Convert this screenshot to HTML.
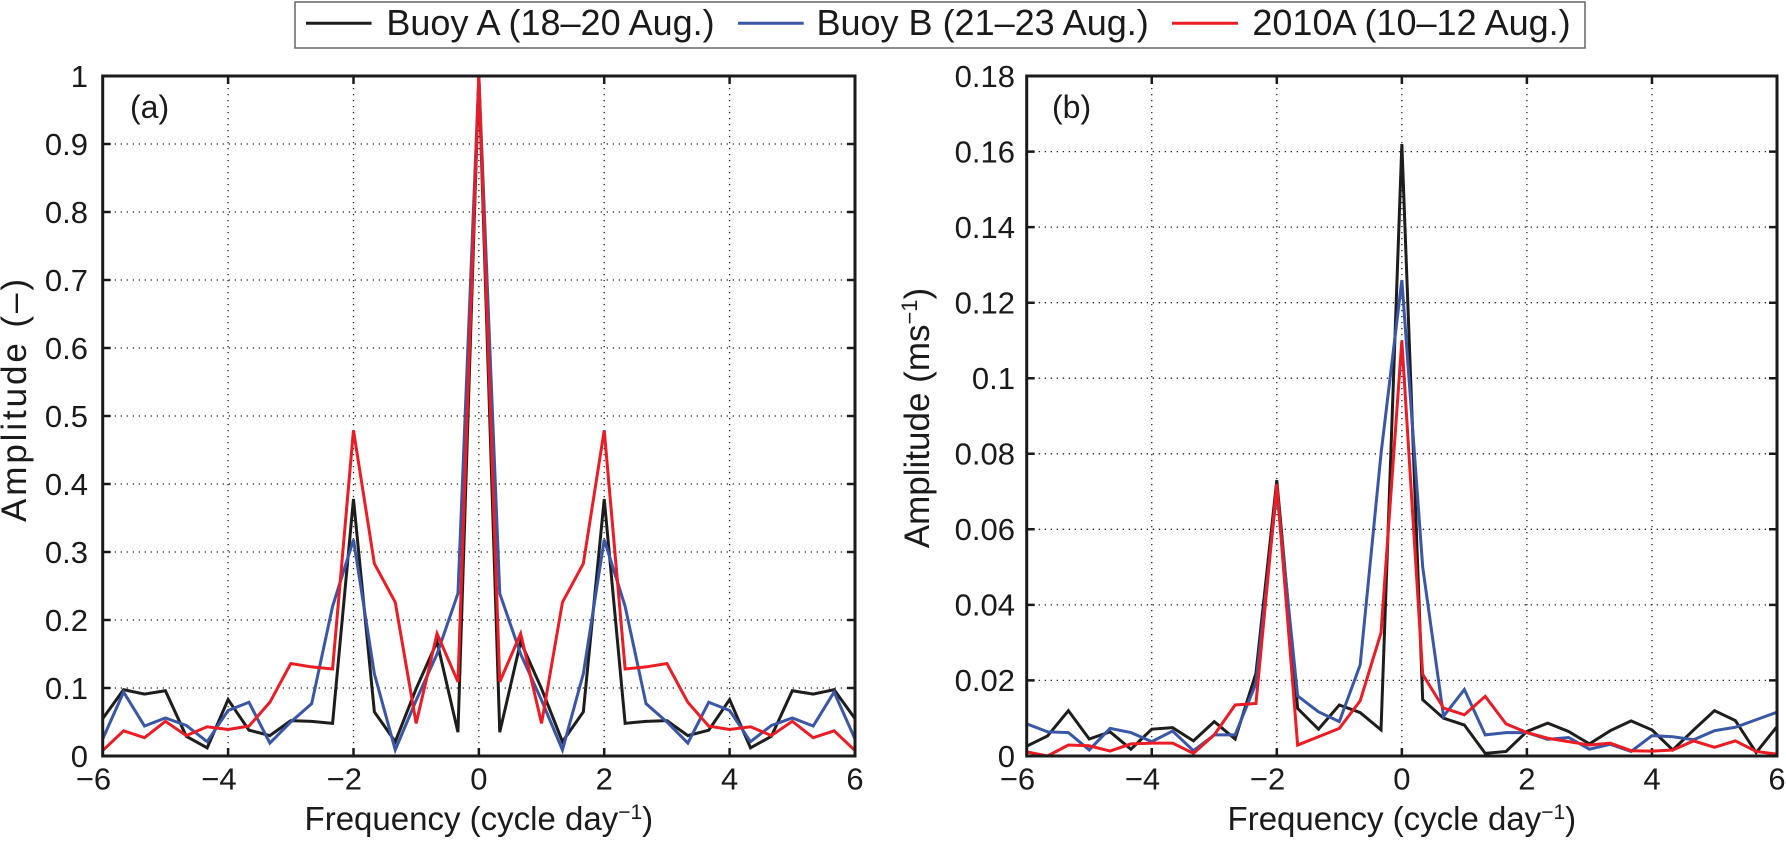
<!DOCTYPE html>
<html><head><meta charset="utf-8"><style>
html,body{margin:0;padding:0;background:#fff;}
svg{display:block;}
text{font-family:"Liberation Sans",Arial,sans-serif;fill:#1a1a1a;}
</style></head><body>
<svg width="1786" height="841" viewBox="0 0 1786 841" xmlns="http://www.w3.org/2000/svg">
<rect width="1786" height="841" fill="#fff"/>

<!-- Legend -->
<rect x="295" y="2" width="1290" height="46" fill="#fff" stroke="#666" stroke-width="1.5"/>
<line x1="306" y1="23.3" x2="371.5" y2="23.3" stroke="#1d1d1b" stroke-width="3"/>
<text x="386.4" y="35" font-size="36">Buoy A (18–20 Aug.)</text>
<line x1="738" y1="23.3" x2="803.7" y2="23.3" stroke="#3a56a6" stroke-width="3"/>
<text x="816.5" y="35" font-size="36">Buoy B (21–23 Aug.)</text>
<line x1="1172" y1="23.3" x2="1238" y2="23.3" stroke="#ec1c24" stroke-width="3"/>
<text x="1252.4" y="35" font-size="36">2010A (10–12 Aug.)</text>

<!-- ============ Panel (a) ============ -->
<g fill="none" stroke="#222" stroke-width="1.3" stroke-dasharray="1.3 4.7">
<path d="M228.1 76V756 M353.5 76V756 M478.85 76V756 M604.2 76V756 M729.6 76V756"/>
<path d="M102.7 688H855 M102.7 620H855 M102.7 552H855 M102.7 484H855 M102.7 416H855 M102.7 348H855 M102.7 280H855 M102.7 212H855 M102.7 144H855"/>
</g>
<g fill="none" stroke="#1a1a1a" stroke-width="2.5">
<path d="M228.1 756v-8 M353.5 756v-8 M478.85 756v-8 M604.2 756v-8 M729.6 756v-8 M228.1 76v8 M353.5 76v8 M478.85 76v8 M604.2 76v8 M729.6 76v8"/>
<path d="M102.7 688h8 M102.7 620h8 M102.7 552h8 M102.7 484h8 M102.7 416h8 M102.7 348h8 M102.7 280h8 M102.7 212h8 M102.7 144h8 M855 688h-8 M855 620h-8 M855 552h-8 M855 484h-8 M855 416h-8 M855 348h-8 M855 280h-8 M855 212h-8 M855 144h-8"/>
</g>
<g transform="translate(478.85,756) scale(62.692,-680)" fill="none" stroke-width="3" stroke-linejoin="miter">
<polyline vector-effect="non-scaling-stroke" stroke="#1d1d1b" points="-6,0.055 -5.6667,0.0975 -5.3333,0.091 -5,0.096 -4.6667,0.029 -4.3333,0.012 -4,0.083 -3.6667,0.038 -3.3333,0.030 -3,0.052 -2.6667,0.051 -2.3333,0.048 -2,0.378 -1.6667,0.065 -1.3333,0.021 -1,0.099 -0.6667,0.168 -0.3333,0.035 0,1 0.3333,0.035 0.6667,0.168 1,0.099 1.3333,0.021 1.6667,0.065 2,0.378 2.3333,0.048 2.6667,0.051 3,0.052 3.3333,0.030 3.6667,0.038 4,0.083 4.3333,0.012 4.6667,0.029 5,0.096 5.3333,0.091 5.6667,0.0975 6,0.055"/>
<polyline vector-effect="non-scaling-stroke" stroke="#3a56a6" points="-6,0.025 -5.6667,0.094 -5.3333,0.044 -5,0.056 -4.6667,0.045 -4.3333,0.021 -4,0.067 -3.6667,0.079 -3.3333,0.019 -3,0.050 -2.6667,0.077 -2.3333,0.22 -2,0.318 -1.6667,0.121 -1.3333,0.009 -1,0.082 -0.6667,0.15 -0.3333,0.239 0,1 0.3333,0.239 0.6667,0.15 1,0.082 1.3333,0.009 1.6667,0.121 2,0.318 2.3333,0.22 2.6667,0.077 3,0.050 3.3333,0.019 3.6667,0.079 4,0.067 4.3333,0.021 4.6667,0.045 5,0.056 5.3333,0.044 5.6667,0.094 6,0.025"/>
<polyline vector-effect="non-scaling-stroke" stroke="#ec1c24" points="-6,0.008 -5.6667,0.037 -5.3333,0.027 -5,0.051 -4.6667,0.030 -4.3333,0.043 -4,0.039 -3.6667,0.044 -3.3333,0.079 -3,0.136 -2.6667,0.131 -2.3333,0.128 -2,0.479 -1.6667,0.283 -1.3333,0.226 -1,0.048 -0.6667,0.18 -0.3333,0.109 0,1 0.3333,0.109 0.6667,0.18 1,0.048 1.3333,0.226 1.6667,0.283 2,0.479 2.3333,0.128 2.6667,0.131 3,0.136 3.3333,0.079 3.6667,0.044 4,0.039 4.3333,0.043 4.6667,0.030 5,0.051 5.3333,0.027 5.6667,0.037 6,0.008"/>
</g>
<rect x="102.7" y="76" width="752.3" height="680" fill="none" stroke="#1a1a1a" stroke-width="3"/>

<g font-size="31" text-anchor="end">
<text x="88" y="766.8">0</text>
<text x="88" y="698.8">0.1</text>
<text x="88" y="630.8">0.2</text>
<text x="88" y="562.8">0.3</text>
<text x="88" y="494.8">0.4</text>
<text x="88" y="426.8">0.5</text>
<text x="88" y="358.8">0.6</text>
<text x="88" y="290.8">0.7</text>
<text x="88" y="222.8">0.8</text>
<text x="88" y="154.8">0.9</text>
<text x="88" y="86.8">1</text>
</g>
<g font-size="31" text-anchor="middle">
<text x="93.5" y="789.5">−6</text>
<text x="218.9" y="789.5">−4</text>
<text x="344.3" y="789.5">−2</text>
<text x="478.85" y="789.5">0</text>
<text x="604.2" y="789.5">2</text>
<text x="729.6" y="789.5">4</text>
<text x="855" y="789.5">6</text>
</g>
<text x="130" y="118" font-size="32">(a)</text>
<text x="478.85" y="830" font-size="33" text-anchor="middle">Frequency (cycle day<tspan font-size="21" dy="-11">−1</tspan><tspan dy="11">)</tspan></text>
<text transform="translate(26,400.5) rotate(-90)" font-size="35" text-anchor="middle" textLength="243" lengthAdjust="spacing">Amplitude (–)</text>

<!-- ============ Panel (b) ============ -->
<g fill="none" stroke="#222" stroke-width="1.3" stroke-dasharray="1.3 4.7">
<path d="M1151.75 76V756 M1276.8 76V756 M1401.85 76V756 M1526.9 76V756 M1651.95 76V756"/>
<path d="M1026.7 680.4H1777 M1026.7 604.9H1777 M1026.7 529.3H1777 M1026.7 453.8H1777 M1026.7 378.2H1777 M1026.7 302.7H1777 M1026.7 227.1H1777 M1026.7 151.6H1777"/>
</g>
<g fill="none" stroke="#1a1a1a" stroke-width="2.5">
<path d="M1151.75 756v-8 M1276.8 756v-8 M1401.85 756v-8 M1526.9 756v-8 M1651.95 756v-8 M1151.75 76v8 M1276.8 76v8 M1401.85 76v8 M1526.9 76v8 M1651.95 76v8"/>
<path d="M1026.7 680.4h8 M1026.7 604.9h8 M1026.7 529.3h8 M1026.7 453.8h8 M1026.7 378.2h8 M1026.7 302.7h8 M1026.7 227.1h8 M1026.7 151.6h8 M1777 680.4h-8 M1777 604.9h-8 M1777 529.3h-8 M1777 453.8h-8 M1777 378.2h-8 M1777 302.7h-8 M1777 227.1h-8 M1777 151.6h-8"/>
</g>
<g transform="translate(1401.85,756) scale(62.525,-3777.8)" fill="none" stroke-width="3" stroke-linejoin="miter">
<polyline vector-effect="non-scaling-stroke" stroke="#1d1d1b" points="-6,0.0026 -5.6667,0.0053 -5.3333,0.012 -5,0.0045 -4.6667,0.0064 -4.3333,0.0018 -4,0.0071 -3.6667,0.0075 -3.3333,0.004 -3,0.0091 -2.6667,0.0045 -2.3333,0.0219 -2,0.073 -1.6667,0.0126 -1.3333,0.0071 -1,0.0135 -0.6667,0.0115 -0.3333,0.0069 0,0.162 0.3333,0.0149 0.6667,0.010 1,0.0082 1.3333,0.0007 1.6667,0.0012 2,0.0065 2.3333,0.0087 2.6667,0.0065 3,0.0032 3.3333,0.0067 3.6667,0.0093 4,0.0069 4.3333,0.0016 4.6667,0.0069 5,0.012 5.3333,0.0094 5.6667,0.0009 6,0.0078"/>
<polyline vector-effect="non-scaling-stroke" stroke="#3a56a6" points="-6,0.0085 -5.6667,0.0064 -5.3333,0.0062 -5,0.0016 -4.6667,0.0073 -4.3333,0.0062 -4,0.0038 -3.6667,0.0066 -3.3333,0.0014 -3,0.0056 -2.6667,0.0056 -2.3333,0.0192 -2,0.070 -1.6667,0.0159 -1.3333,0.0117 -1,0.0091 -0.6667,0.0241 -0.3333,0.080 0,0.126 0.3333,0.050 0.6667,0.0105 1,0.0176 1.3333,0.0056 1.6667,0.0062 2,0.0062 2.3333,0.0044 2.6667,0.0049 3,0.0018 3.3333,0.0031 3.6667,0.0012 4,0.0054 4.3333,0.0051 4.6667,0.0043 5,0.0067 5.3333,0.0076 5.6667,0.0096 6,0.0116"/>
<polyline vector-effect="non-scaling-stroke" stroke="#ec1c24" points="-6,0.0011 -5.6667,0.0 -5.3333,0.0029 -5,0.0027 -4.6667,0.0013 -4.3333,0.0032 -4,0.0034 -3.6667,0.0034 -3.3333,0.0007 -3,0.0056 -2.6667,0.0135 -2.3333,0.0139 -2,0.072 -1.6667,0.0029 -1.3333,0.0051 -1,0.0073 -0.6667,0.0146 -0.3333,0.0326 0,0.110 0.3333,0.0216 0.6667,0.0127 1,0.0109 1.3333,0.0158 1.6667,0.0085 2,0.0062 2.3333,0.0047 2.6667,0.0038 3,0.0029 3.3333,0.0034 3.6667,0.0014 4,0.0013 4.3333,0.0016 4.6667,0.004 5,0.0023 5.3333,0.004 5.6667,0.0012 6,0.0005"/>
</g>
<rect x="1026.7" y="76" width="750.3" height="680" fill="none" stroke="#1a1a1a" stroke-width="3"/>

<g font-size="31" text-anchor="end">
<text x="1015" y="766.8">0</text>
<text x="1015" y="691.2">0.02</text>
<text x="1015" y="615.7">0.04</text>
<text x="1015" y="540.1">0.06</text>
<text x="1015" y="464.6">0.08</text>
<text x="1015" y="389">0.1</text>
<text x="1015" y="313.5">0.12</text>
<text x="1015" y="237.9">0.14</text>
<text x="1015" y="162.4">0.16</text>
<text x="1015" y="86.8">0.18</text>
</g>
<g font-size="31" text-anchor="middle">
<text x="1017.5" y="789.5">−6</text>
<text x="1142.5" y="789.5">−4</text>
<text x="1267.6" y="789.5">−2</text>
<text x="1401.85" y="789.5">0</text>
<text x="1526.9" y="789.5">2</text>
<text x="1651.95" y="789.5">4</text>
<text x="1777" y="789.5">6</text>
</g>
<text x="1052" y="118" font-size="32">(b)</text>
<text x="1401.85" y="830" font-size="33" text-anchor="middle">Frequency (cycle day<tspan font-size="21" dy="-11">−1</tspan><tspan dy="11">)</tspan></text>
<text transform="translate(929,418) rotate(-90)" font-size="35" text-anchor="middle">Amplitude (ms<tspan font-size="22" dy="-12">−1</tspan><tspan dy="12">)</tspan></text>
</svg>
</body></html>
